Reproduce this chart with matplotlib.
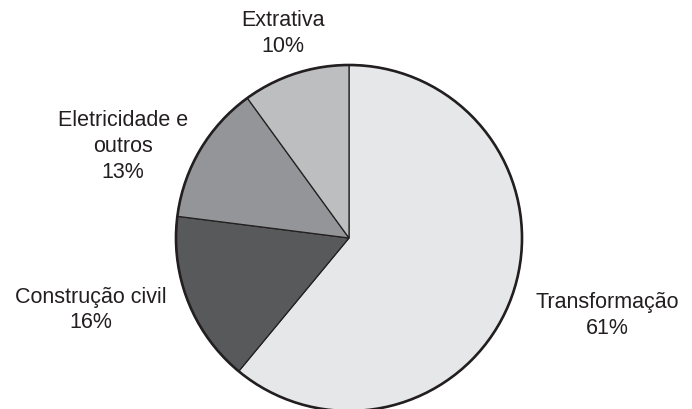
import matplotlib.pyplot as plt
from matplotlib.patches import Circle

plt.rcParams['font.family'] = ['Liberation Sans', 'DejaVu Sans']

setores = ["Transformação", "Construção civil", "Eletricidade e\noutros", "Extrativa"]
participacao = [61, 16, 13, 10]
cores = ["#e6e7e8", "#58595b", "#939598", "#bcbec0"]
# label centres in axes data units (pie radius = 1)
pos_rotulos = [(1.495, -0.44), (-1.49, -0.41), (-1.306, 0.535), (-0.382, 1.19)]

fig = plt.figure(figsize=(6.92, 4.10), dpi=100)
r_px = 173
cx, cy = 349, 239
ax = fig.add_axes([(cx - r_px) / 692, (410 - cy - r_px) / 410, 2 * r_px / 692, 2 * r_px / 410])

wedges, _ = ax.pie(participacao, colors=cores, startangle=90, counterclock=False,
                   wedgeprops=dict(edgecolor="#231f20", linewidth=0.9))
for w in wedges:
    w.set_clip_on(False)
borda = Circle((0, 0), 1, fill=False, edgecolor="#231f20", linewidth=1.9, clip_on=False)
ax.add_patch(borda)

for nome, val, (x, y) in zip(setores, participacao, pos_rotulos):
    ax.text(x, y, f"{nome}\n{val}%", ha="center", va="center", fontsize=15.5,
            color="#231f20", linespacing=1.3, clip_on=False)

ax.set_xlim(-1, 1)
ax.set_ylim(-1, 1)
ax.set_aspect("auto")
ax.axis("off")

fig.savefig("out.png", dpi=100)
